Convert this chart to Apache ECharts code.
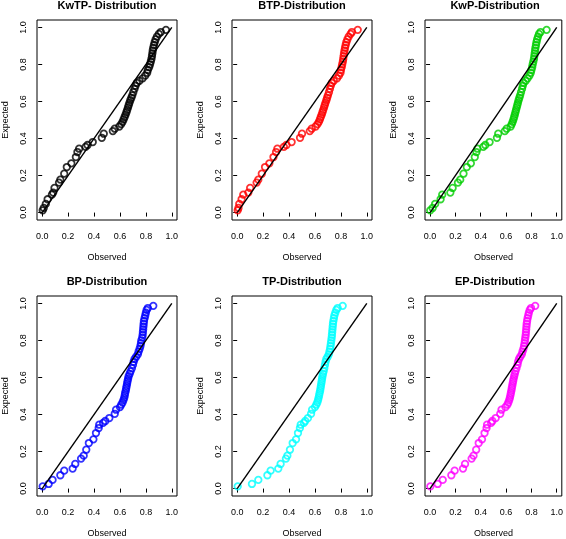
<!DOCTYPE html>
<html>
<head>
<meta charset="utf-8">
<script src="https://cdn.jsdelivr.net/npm/echarts@6/dist/echarts.min.js"></script>
<style>
html,body{margin:0;padding:0;background:#fff;}
#chart{width:566px;height:539px;}
</style>
</head>
<body>
<div id="chart"></div>
<script>
// Panel titles
var titles = ["KwTP- Distribution", "BTP-Distribution", "KwP-Distribution",
              "BP-Distribution", "TP-Distribution", "EP-Distribution"];
var colors = ["#000000", "#FF0000", "#00CD00", "#0000FF", "#00FFFF", "#FF00FF"];
var ticks = [0, 0.2, 0.4, 0.6, 0.8, 1.0];
var xName = "Observed";
var yName = "Expected";

// Expected (y) values, shared by all panels
var expected = [0.012, 0.025, 0.047, 0.072, 0.097, 0.108, 0.133, 0.162, 0.178, 0.210,
  0.246, 0.266, 0.300, 0.327, 0.345, 0.355, 0.365, 0.381, 0.404, 0.426,
  0.440, 0.453, 0.465, 0.478, 0.490, 0.503, 0.516, 0.529, 0.542, 0.555,
  0.568, 0.581, 0.594, 0.607, 0.620, 0.633, 0.650, 0.668, 0.685, 0.700,
  0.712, 0.725, 0.740, 0.755, 0.770, 0.785, 0.800, 0.815, 0.830, 0.845,
  0.860, 0.875, 0.890, 0.905, 0.920, 0.935, 0.950, 0.965, 0.975, 0.987];

// Observed (x) values per distribution
var obsKwTP = [0.004, 0.012, 0.028, 0.042, 0.075, 0.085, 0.095, 0.13, 0.14, 0.17,
  0.19, 0.225, 0.26, 0.272, 0.285, 0.335, 0.35, 0.39, 0.46, 0.475,
  0.545, 0.56, 0.595, 0.61, 0.62, 0.628, 0.636, 0.643, 0.65, 0.656,
  0.662, 0.668, 0.674, 0.68, 0.688, 0.695, 0.703, 0.712, 0.72, 0.73,
  0.75, 0.775, 0.795, 0.81, 0.815, 0.825, 0.832, 0.838, 0.843, 0.847,
  0.85, 0.853, 0.857, 0.862, 0.868, 0.875, 0.885, 0.9, 0.915, 0.955];
var obsBTP = [0.004, 0.01, 0.016, 0.034, 0.047, 0.086, 0.10, 0.15, 0.163, 0.19,
  0.215, 0.248, 0.28, 0.30, 0.31, 0.36, 0.38, 0.42, 0.485, 0.50,
  0.56, 0.575, 0.605, 0.62, 0.63, 0.638, 0.645, 0.652, 0.658, 0.664,
  0.67, 0.676, 0.682, 0.688, 0.694, 0.70, 0.708, 0.715, 0.722, 0.73,
  0.745, 0.77, 0.785, 0.797, 0.80, 0.806, 0.81, 0.815, 0.818, 0.821,
  0.824, 0.828, 0.832, 0.837, 0.842, 0.85, 0.86, 0.875, 0.885, 0.93];
var obsKwP = [0.001, 0.02, 0.04, 0.083, 0.096, 0.16, 0.178, 0.22, 0.238, 0.264,
  0.29, 0.322, 0.353, 0.366, 0.374, 0.42, 0.436, 0.47, 0.528, 0.538,
  0.59, 0.605, 0.636, 0.645, 0.652, 0.658, 0.664, 0.669, 0.674, 0.679,
  0.684, 0.689, 0.694, 0.699, 0.705, 0.711, 0.718, 0.726, 0.732, 0.738,
  0.755, 0.77, 0.785, 0.795, 0.80, 0.806, 0.81, 0.815, 0.82, 0.823,
  0.826, 0.829, 0.832, 0.836, 0.84, 0.845, 0.852, 0.86, 0.872, 0.92];
var obsBP = [0.004, 0.05, 0.08, 0.14, 0.17, 0.235, 0.255, 0.30, 0.32, 0.34,
  0.36, 0.395, 0.415, 0.436, 0.44, 0.47, 0.487, 0.518, 0.56, 0.57,
  0.60, 0.61, 0.62, 0.627, 0.633, 0.637, 0.64, 0.645, 0.648, 0.652,
  0.655, 0.659, 0.663, 0.667, 0.675, 0.682, 0.692, 0.70, 0.706, 0.713,
  0.725, 0.738, 0.744, 0.752, 0.758, 0.762, 0.765, 0.772, 0.775, 0.777,
  0.779, 0.781, 0.783, 0.785, 0.79, 0.795, 0.80, 0.806, 0.815, 0.857];
var obsTP = [0.004, 0.114, 0.163, 0.233, 0.258, 0.317, 0.335, 0.376, 0.387, 0.407,
  0.428, 0.454, 0.469, 0.484, 0.49, 0.515, 0.525, 0.546, 0.57, 0.578,
  0.60, 0.61, 0.618, 0.624, 0.628, 0.632, 0.636, 0.64, 0.643, 0.646,
  0.649, 0.652, 0.655, 0.658, 0.662, 0.667, 0.672, 0.677, 0.682, 0.688,
  0.698, 0.707, 0.712, 0.717, 0.72, 0.723, 0.726, 0.729, 0.731, 0.733,
  0.735, 0.737, 0.739, 0.742, 0.746, 0.75, 0.757, 0.765, 0.775, 0.814];
var obsEP = [0.002, 0.06, 0.10, 0.168, 0.194, 0.26, 0.276, 0.328, 0.343, 0.364,
  0.384, 0.41, 0.43, 0.446, 0.45, 0.482, 0.492, 0.518, 0.554, 0.564,
  0.595, 0.61, 0.618, 0.625, 0.63, 0.634, 0.638, 0.642, 0.645, 0.649,
  0.652, 0.656, 0.66, 0.664, 0.669, 0.674, 0.682, 0.69, 0.695, 0.702,
  0.712, 0.724, 0.73, 0.737, 0.742, 0.746, 0.749, 0.752, 0.755, 0.757,
  0.759, 0.761, 0.763, 0.766, 0.77, 0.775, 0.78, 0.787, 0.797, 0.83];

var observedAll = [obsKwTP, obsBTP, obsKwP, obsBP, obsTP, obsEP];
var refLine = [[0, 0], [1, 1]];

var FONT = "'Liberation Sans', Arial, Helvetica, sans-serif";
var gridPos = [
  {left: 37, top: 20}, {left: 232, top: 20}, {left: 425, top: 20},
  {left: 37, top: 296}, {left: 232, top: 296}, {left: 425, top: 296}
];
var GW = 140, GH = 200;

var option = {
  backgroundColor: '#ffffff',
  animation: false,
  title: [], grid: [], xAxis: [], yAxis: [], series: []
};

function fmt(v) { return v.toFixed(1); }

for (var i = 0; i < 6; i++) {
  var g = gridPos[i];
  option.title.push({
    text: titles[i], left: g.left + GW / 2, top: g.top - 20, textAlign: 'center', padding: 0,
    textStyle: {fontFamily: FONT, fontSize: 11, fontWeight: 'bold', color: '#000'}
  });
  option.grid.push({
    left: g.left, top: g.top, width: GW, height: GH,
    show: true, borderColor: '#000', borderWidth: 1, backgroundColor: 'transparent'
  });
  var axisCommon = {
    type: 'value', min: -0.04, max: 1.04,
    splitLine: {show: false},
    axisLine: {show: false}
  };
  option.xAxis.push(Object.assign({}, axisCommon, {
    gridIndex: i, position: 'bottom',
    name: xName, nameLocation: 'middle', nameGap: 33,
    nameTextStyle: {fontFamily: FONT, fontSize: 9, color: '#000'},
    axisTick: {show: true, inside: false, length: 4, customValues: ticks,
               lineStyle: {color: '#000', width: 1}},
    axisLabel: {show: true, customValues: ticks, margin: 12, formatter: fmt,
                fontFamily: FONT, fontSize: 9, color: '#000'}
  }));
  option.yAxis.push(Object.assign({}, axisCommon, {
    gridIndex: i, position: 'left',
    name: yName, nameLocation: 'middle', nameGap: 27, nameRotate: 90,
    nameTextStyle: {fontFamily: FONT, fontSize: 9, color: '#000'},
    axisTick: {show: true, inside: false, length: 4, customValues: ticks,
               lineStyle: {color: '#000', width: 1}},
    axisLabel: {show: true, customValues: ticks, margin: 9, rotate: 90, formatter: fmt,
                fontFamily: FONT, fontSize: 9, color: '#000'}
  }));
  var pts = [];
  var obs = observedAll[i];
  for (var k = 0; k < obs.length; k++) pts.push([obs[k], expected[k]]);
  option.series.push({
    type: 'scatter', xAxisIndex: i, yAxisIndex: i, data: pts,
    symbol: 'circle', symbolSize: 6.5,
    itemStyle: {color: 'transparent', borderColor: colors[i], borderWidth: 1.8},
    silent: true, z: 2
  });
  option.series.push({
    type: 'line', xAxisIndex: i, yAxisIndex: i, data: refLine,
    symbol: 'none', lineStyle: {color: '#000', width: 1.4}, silent: true, z: 3
  });
}

var chart = echarts.init(document.getElementById('chart'), null, {renderer: 'canvas'});
chart.setOption(option);
</script>
</body>
</html>
